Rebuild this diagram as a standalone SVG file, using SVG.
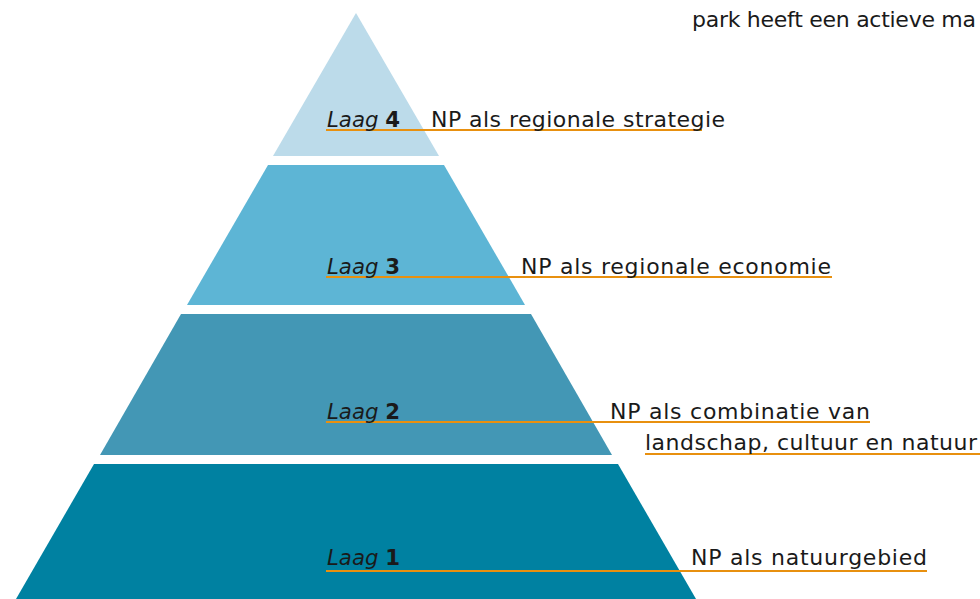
<svg xmlns="http://www.w3.org/2000/svg" width="980" height="599" viewBox="0 0 980 599">
<style>
text{font-family:"DejaVu Sans","Open Sans",sans-serif;font-size:22px;fill:#1a1a1a}
.i{font-style:italic}
.b{font-weight:bold}
.ul{stroke:#e8900f;stroke-width:2;fill:none}
</style>
<rect width="980" height="599" fill="#ffffff"/>
<g id="layer4"><polygon points="356,13 439,156 273,156" fill="#bcdbea"/></g>
<g id="layer3"><polygon points="268,165 444,165 525,305 187,305" fill="#5db5d5"/></g>
<g id="layer2"><polygon points="181,314 531,314 612,455 100,455" fill="#4397b5"/></g>
<g id="layer1"><polygon points="94,464 618,464 696,599 16,599" fill="#0081a1"/></g>
<g id="connectors">
<line class="ul" x1="326" y1="130" x2="702" y2="130"/>
<line class="ul" x1="326" y1="277" x2="832" y2="277"/>
<line class="ul" x1="326" y1="422" x2="870" y2="422"/>
<line class="ul" x1="645" y1="454" x2="980" y2="454"/>
<line class="ul" x1="326" y1="571" x2="927" y2="571"/>
</g>
<g id="labels">
<text x="327" y="127" textLength="73" lengthAdjust="spacingAndGlyphs"><tspan class="i">Laag</tspan> <tspan class="b">4</tspan></text>
<text x="431" y="127" textLength="294" lengthAdjust="spacing">NP als regionale strategie</text>
<text x="327" y="274" textLength="73" lengthAdjust="spacingAndGlyphs"><tspan class="i">Laag</tspan> <tspan class="b">3</tspan></text>
<text x="521" y="274" textLength="310" lengthAdjust="spacing">NP als regionale economie</text>
<text x="327" y="419" textLength="73" lengthAdjust="spacingAndGlyphs"><tspan class="i">Laag</tspan> <tspan class="b">2</tspan></text>
<text x="610" y="419" textLength="260" lengthAdjust="spacing">NP als combinatie van</text>
<text x="645" y="450" textLength="332" lengthAdjust="spacing">landschap, cultuur en natuur</text>
<text x="327" y="565" textLength="73" lengthAdjust="spacingAndGlyphs"><tspan class="i">Laag</tspan> <tspan class="b">1</tspan></text>
<text x="691" y="565" textLength="236" lengthAdjust="spacing">NP als natuurgebied</text>
<text x="692" y="27" textLength="284" lengthAdjust="spacing">park heeft een actieve ma</text>
</g>
</svg>
